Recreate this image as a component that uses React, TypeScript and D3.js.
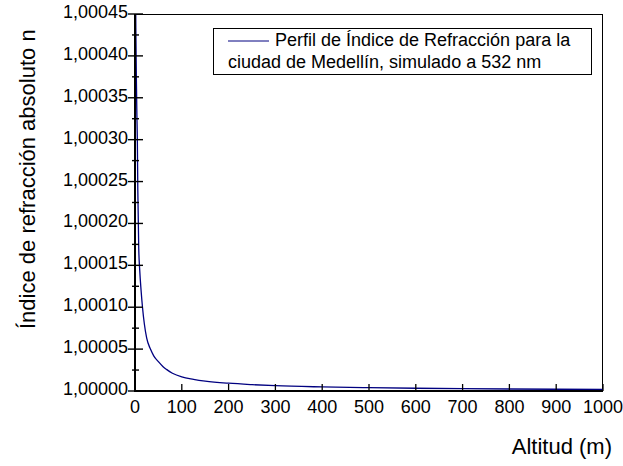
import React from "react";
import * as d3 from "d3";

// Altitude above the station (m) and the simulated absolute refractive index at 532 nm
const altitudes = [0, 1, 2, 3, 4, 5, 6, 8, 10, 13, 16, 20, 25, 33, 40, 50, 60, 68, 80, 100, 125, 150, 200, 250, 300, 400, 500, 600, 700, 800, 900, 1000];
const refractiveIndex = [
  1.0007, 1.0005, 1.00042, 1.00037, 1.00033, 1.0003, 1.00024, 1.00017, 1.000145, 1.00012, 1.0001, 1.00008,
  1.000063, 1.00005, 1.000042, 1.000035, 1.000029, 1.0000255, 1.0000212, 1.0000168, 1.000014, 1.0000119,
  1.0000093, 1.0000076, 1.0000063, 1.0000049, 1.000004, 1.0000033, 1.0000028, 1.0000024, 1.0000021, 1.0000019,
];

const xTicks = [0, 100, 200, 300, 400, 500, 600, 700, 800, 900, 1000];
const yTicks = [1.0, 1.00005, 1.0001, 1.00015, 1.0002, 1.00025, 1.0003, 1.00035, 1.0004, 1.00045];
const yMinorTicks = [1.000025, 1.000075, 1.000125, 1.000175, 1.000225, 1.000275, 1.000325, 1.000375, 1.000425];

const legendLines = ["Perfil de Índice de Refracción para la", "ciudad de Medellín, simulado a 532 nm"];
const xTitle = "Altitud (m)";
const yTitle = "Índice de refracción absoluto n";

const W = 623;
const H = 466;
const left = 135;
const right = 603;
const top = 14;
const bottom = 391;
const font = "'Liberation Sans', Arial, sans-serif";
const lineColor = "#000080";

const fmtY = (v: number) => d3.format(".5f")(v).replace(".", ",");

export default function App() {
  const x = d3.scaleLinear().domain([0, 1000]).range([left, right]);
  const y = d3.scaleLinear().domain([1.0, 1.00045]).range([bottom, top]);

  const points = altitudes.map((a, i) => [a, refractiveIndex[i]] as [number, number]);
  const line = d3
    .line<[number, number]>()
    .x((d) => x(d[0]))
    .y((d) => y(d[1]))
    .curve(d3.curveMonotoneX);

  return (
    <div style={{ position: "absolute", left: 0, top: 0 }}>
      <svg width={W} height={H} style={{ display: "block", background: "#fff" }} fontFamily={font}>
        <defs>
          <clipPath id="plotClip">
            <rect x={left} y={top} width={right - left} height={bottom - top} />
          </clipPath>
        </defs>

        {/* frame */}
        <line x1={left} x2={right} y1={top + 0.5} y2={top + 0.5} stroke="#000" strokeWidth={1} />
        <line x1={right - 0.5} x2={right - 0.5} y1={top} y2={bottom} stroke="#000" strokeWidth={1} />

        {/* data */}
        <path d={line(points) ?? ""} fill="none" stroke={lineColor} strokeWidth={1.3} clipPath="url(#plotClip)" />

        {/* y axis */}
        <line x1={left} x2={left} y1={top} y2={bottom + 1} stroke="#000" strokeWidth={2} />
        {yTicks.map((t) => (
          <g key={`y${t}`}>
            <line x1={left - 7} x2={left + 8} y1={y(t)} y2={y(t)} stroke="#000" strokeWidth={1.4} />
            <text x={left - 7} y={y(t) + 4} textAnchor="end" fontSize={18} fill="#000">
              {fmtY(t)}
            </text>
          </g>
        ))}
        {yMinorTicks.map((t) => (
          <line key={`ym${t}`} x1={left - 3} x2={left + 4} y1={y(t)} y2={y(t)} stroke="#000" strokeWidth={1.4} />
        ))}

        {/* x axis */}
        <line x1={left - 1} x2={right} y1={bottom} y2={bottom} stroke="#000" strokeWidth={2} />
        {xTicks.map((t) => (
          <g key={`x${t}`}>
            <line x1={x(t)} x2={x(t)} y1={bottom} y2={bottom - 7} stroke="#000" strokeWidth={1.3} />
            <text x={x(t)} y={413} textAnchor="middle" fontSize={18} fill="#000">
              {t}
            </text>
          </g>
        ))}

        {/* axis titles */}
        <text x={612} y={454} textAnchor="end" fontSize={22} fill="#000">
          {xTitle}
        </text>
        <text transform="translate(35,329) rotate(-90)" textAnchor="start" fontSize={22} fill="#000">
          {yTitle}
        </text>

        {/* legend */}
        <rect x={213.5} y={28.5} width={378} height={46} fill="#fff" stroke="#000" strokeWidth={1} />
        <line x1={228} x2={269} y1={41} y2={41} stroke={lineColor} strokeWidth={1} />
        <text x={275} y={46} fontSize={18} fill="#000">
          {legendLines[0]}
        </text>
        <text x={228} y={68} fontSize={18} fill="#000">
          {legendLines[1]}
        </text>
      </svg>
    </div>
  );
}
